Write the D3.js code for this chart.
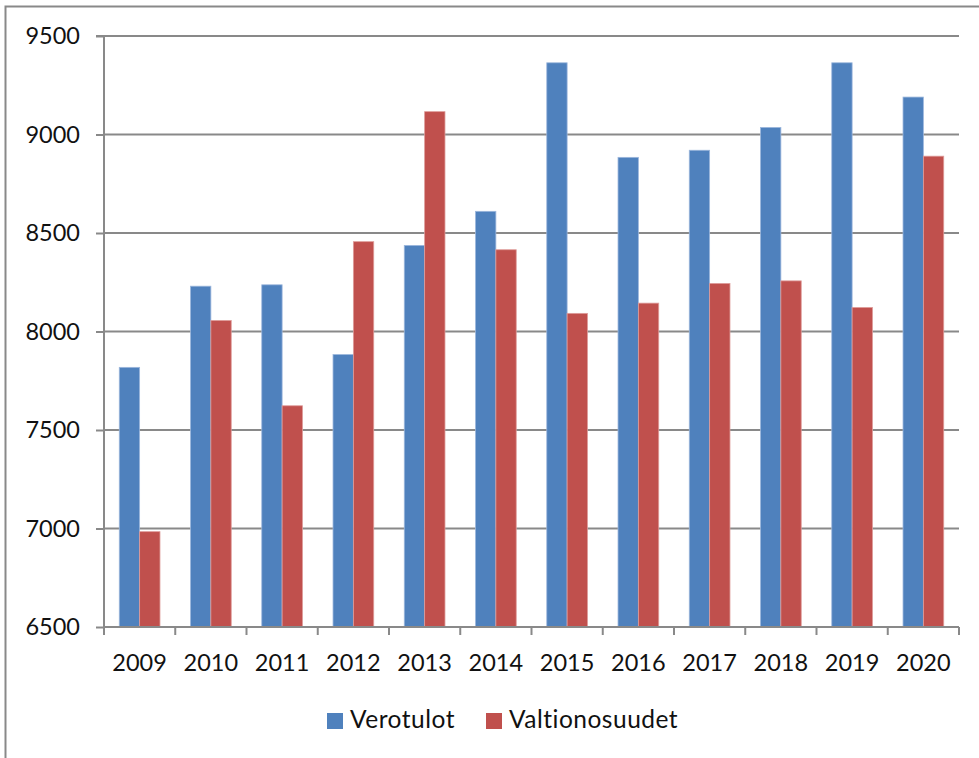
<!DOCTYPE html>
<html>
<head>
<meta charset="utf-8">
<script src="https://cdn.jsdelivr.net/npm/d3@7"></script>
<style>
  html, body { margin: 0; padding: 0; background: #fff; }
  svg { display: block; font-family: Lato, "Open Sans", sans-serif; }
</style>
</head>
<body>
<svg id="chart" width="979" height="758"></svg>
<script>
const years = ["2009","2010","2011","2012","2013","2014","2015","2016","2017","2018","2019","2020"];
const verotulot = [7818, 8230, 8237, 7883, 8437, 8610, 9364, 8884, 8920, 9036, 9364, 9190];
const valtionosuudet = [6984, 8056, 7623, 8456, 9116, 8415, 8092, 8144, 8244, 8257, 8122, 8890];
const seriesNames = ["Verotulot", "Valtionosuudet"];
const seriesColors = ["#4F81BD", "#C0504D"];
const seriesStroke = ["#9CB7DC", "#DE9C9A"];
const yTicks = [6500, 7000, 7500, 8000, 8500, 9000, 9500];

const svg = d3.select("#chart");
const gridColor = "#898989";
const textColor = "#111";

// outer border
svg.append("rect")
  .attr("x", 5.5).attr("y", 6.5)
  .attr("width", 1000).attr("height", 800)
  .attr("fill", "none").attr("stroke", gridColor).attr("stroke-width", 2);

const plot = { left: 104, right: 959, top: 36, bottom: 627 };

const x = d3.scaleBand().domain(years).range([plot.left, plot.right]).paddingInner(0).paddingOuter(0);
const y = d3.scaleLinear().domain([6500, 9500]).range([plot.bottom, plot.top]);

// gridlines
svg.append("g").selectAll("line").data(yTicks.slice(1)).join("line")
  .attr("x1", plot.left).attr("x2", plot.right)
  .attr("y1", d => y(d)).attr("y2", d => y(d))
  .attr("stroke", gridColor).attr("stroke-width", 2);

// bars
const barW = x.bandwidth() / 3.5;
const inner = d3.scaleBand().domain(seriesNames).range([0, 2 * barW]);
const series = [verotulot, valtionosuudet];

series.forEach((vals, si) => {
  svg.append("g").selectAll("rect").data(years).join("rect")
    .attr("x", d => x(d) + (x.bandwidth() - 2 * barW) / 2 + inner(seriesNames[si]))
    .attr("y", (d, i) => y(vals[i]))
    .attr("width", inner.bandwidth())
    .attr("height", (d, i) => y(6500) - y(vals[i]))
    .attr("fill", seriesColors[si])
    .attr("stroke", seriesStroke[si])
    .attr("stroke-width", 0.8);
});

// y axis
const yAxis = d3.axisLeft(y).tickValues(yTicks).tickSize(8).tickPadding(16).tickFormat(d3.format("d"));
const gy = svg.append("g").attr("transform", `translate(${plot.left},0)`).call(yAxis);
gy.select(".domain").attr("stroke", gridColor).attr("stroke-width", 2).attr("d", `M-8,${plot.top}H0V${plot.bottom}`);
gy.selectAll(".tick line").attr("stroke", gridColor).attr("stroke-width", 2);
gy.selectAll(".tick text").attr("font-size", 23.5).attr("fill", textColor).attr("font-family", "Lato, sans-serif");

// x axis
const xAxis = d3.axisBottom(x).tickSize(0).tickPadding(27);
const gx = svg.append("g").attr("transform", `translate(0,${plot.bottom})`).call(xAxis);
gx.select(".domain").attr("stroke", gridColor).attr("stroke-width", 2).attr("d", `M${plot.left},0H${plot.right}`);
gx.selectAll(".tick text").attr("font-size", 23.5).attr("fill", textColor).attr("font-family", "Lato, sans-serif");
// category boundary ticks
const bounds = years.map(d => x(d)).concat([plot.right]);
gx.append("g").selectAll("line").data(bounds).join("line")
  .attr("x1", d => d).attr("x2", d => d)
  .attr("y1", 0).attr("y2", 8)
  .attr("stroke", gridColor).attr("stroke-width", 2);

// legend
const legend = svg.append("g");
const legendItems = [
  { name: seriesNames[0], color: seriesColors[0], x: 327 },
  { name: seriesNames[1], color: seriesColors[1], x: 486 }
];
legendItems.forEach(it => {
  legend.append("rect").attr("x", it.x).attr("y", 713).attr("width", 16).attr("height", 16).attr("fill", it.color);
  legend.append("text").attr("x", it.x + 23).attr("y", 728)
    .attr("font-size", 24.5).attr("letter-spacing", 0.5).attr("fill", textColor).text(it.name);
});
</script>
</body>
</html>
